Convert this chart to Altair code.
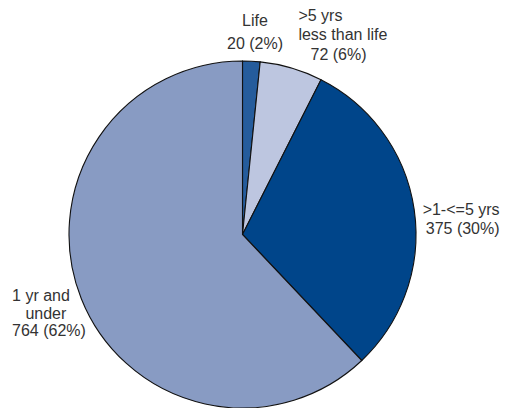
import altair as alt
import pandas as pd

# ---- data ----
categories = ["Life", ">5 yrs less than life", ">1-<=5 yrs", "1 yr and under"]
name_lines = [["Life"], [">5 yrs", "less than life"], [">1-<=5 yrs"], ["1 yr and", "under"]]
counts = [20, 72, 375, 764]
percents = [2, 6, 30, 62]
colors = ["#255C9C", "#BDC6E0", "#00458A", "#889BC3"]

# ---- layout only: indentation of some label lines (in the original they are not flush) ----
INDENT = {(1, 2): "\u00a0\u00a0\u2009", (3, 1): "\u00a0\u00a0\u00a0"}


def build_label(i):
    lines = name_lines[i] + [f"{counts[i]} ({percents[i]}%)"]
    out = []
    for j, ln in enumerate(lines):
        pre = INDENT.get((i, j))
        out.append(("\u200b" + pre + ln) if pre else ln)
    return "\n".join(out)


df = pd.DataFrame({
    "category": categories,
    "count": counts,
    "order": list(range(len(categories))),
    "label": [build_label(i) for i in range(len(categories))],
})

total = sum(counts)
R = 173.5
theta_scale = alt.Scale(domain=[0, total])

base = alt.Chart(df)

pie = base.mark_arc(outerRadius=R, stroke="#111111", strokeWidth=1.1).encode(
    theta=alt.Theta("count:Q", stack=True, scale=theta_scale),
    color=alt.Color("category:N",
                    scale=alt.Scale(domain=categories, range=colors),
                    legend=None),
    order=alt.Order("order:Q"),
)

# label placement tweaks (layout only): radius, dx, dy, align, lineHeight
label_layout = {
    "Life": dict(radius=200, dx=2.3, dy=-13.8, align="center", lineHeight=23.5),
    ">5 yrs less than life": dict(radius=200, dx=-0.5, dy=-27, align="left", lineHeight=19.5),
    ">1-<=5 yrs": dict(radius=225, dx=34.4, dy=7.5, align="right", lineHeight=19),
    "1 yr and under": dict(radius=205, dx=-40, dy=-14.3, align="left", lineHeight=17.5),
}

layers = [pie]
for cat in categories:
    lay = label_layout[cat]
    t = base.transform_window(
        cum="sum(count)", sort=[alt.SortField("order")]
    ).transform_calculate(
        mid="datum.cum - datum.count / 2"
    ).transform_filter(
        alt.datum.category == cat
    ).mark_text(
        radius=lay["radius"], dx=lay["dx"], dy=lay["dy"], align=lay["align"],
        baseline="middle", lineBreak="\n", lineHeight=lay["lineHeight"],
        font="Liberation Sans", fontSize=16, color="#333333",
    ).encode(
        theta=alt.Theta("mid:Q", scale=theta_scale),
        text="label:N",
    )
    layers.append(t)

chart = alt.layer(*layers).properties(
    width=346, height=346,
    autosize=alt.AutoSizeParams(type="none"),
    padding={"left": 61.5, "top": 53.5, "right": 85.5, "bottom": 0},
).configure_view(strokeWidth=0).configure(background="white")

chart.save("out.html", embed_options={"renderer": "svg", "actions": False})
